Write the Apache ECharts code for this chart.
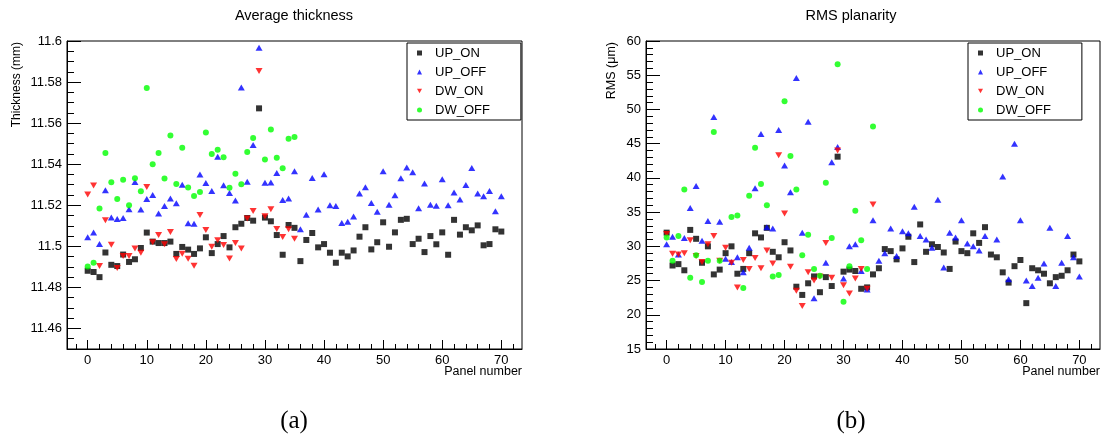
<!DOCTYPE html>
<html>
<head>
<meta charset="utf-8">
<script src="https://cdn.jsdelivr.net/npm/echarts@6/dist/echarts.min.js"></script>
<style>
  html, body { margin: 0; padding: 0; background: #fff; }
  #chart { width: 1102px; height: 440px; }
</style>
</head>
<body>
<div id="chart"></div>
<script>
// Panel measurements, indexed by panel number (null = no measurement shown)
const thicknessUpOn = [
  11.4881, 11.4875, 11.4850, 11.4970, 11.4910, 11.4904, 11.4960, 11.4924, 11.4937, 11.4992,
  11.5067, 11.5023, 11.5016, 11.5016, 11.5023, 11.4963, 11.4997, 11.4984, 11.4963, 11.4990,
  11.5044, 11.4967, 11.5011, 11.5050, 11.4995, 11.5093, 11.5110, 11.5138, 11.5125, 11.5672,
  11.5140, 11.5122, 11.5055, 11.4959, 11.5104, 11.5090, 11.4928, 11.5031, 11.5065, 11.4995,
  11.5011, 11.4969, 11.4920, 11.4969, 11.4951, 11.4980, 11.5047, 11.5093, 11.4985, 11.5020,
  11.5117, 11.4998, 11.5068, 11.5129, 11.5134, 11.5011, 11.5037, 11.4972, 11.5050, 11.5010,
  11.5068, 11.4959, 11.5129, 11.5057, 11.5093, 11.5078, 11.5102, 11.5005, 11.5011, 11.5083,
  11.5072
];
const thicknessUpOff = [
  11.5044, 11.5067, 11.5011, 11.5273, 11.5140, 11.5133, 11.5138, 11.5180, 11.5313, 11.5179,
  11.5231, 11.5250, 11.5160, 11.5196, 11.5233, 11.5210, 11.5300, 11.5112, 11.5110, 11.5350,
  11.5309, 11.5270, 11.5436, 11.5297, 11.5260, 11.5223, 11.5774, 11.5315, 11.5494, 11.5967,
  11.5310, 11.5311, 11.5357, 11.5226, 11.5233, 11.5366, 11.5083, 11.5154, 11.5333, 11.5179,
  11.5351, 11.5200, 11.5197, 11.5114, 11.5120, 11.5145, 11.5257, 11.5288, 11.5211, 11.5169,
  11.5366, 11.5203, 11.5249, 11.5332, 11.5384, 11.5361, 11.5185, 11.5306, 11.5203, 11.5198,
  11.5327, 11.5200, 11.5262, 11.5228, 11.5299, 11.5381, 11.5257, 11.5244, 11.5270, 11.5171,
  11.5244
];
const thicknessDwOn = [
  11.5252, 11.5296, 11.4904, 11.5127, 11.5008, 11.4894, 11.4953, 11.4953, 11.4989, 11.4969,
  11.5289, 11.5020, 11.5055, 11.5010, 11.5070, 11.4938, 11.4964, 11.4940, 11.4906, 11.5153,
  11.5080, 11.4998, 11.5030, 11.5006, 11.4941, 11.5016, 11.4990, 11.5135, 11.5172, 11.5854,
  11.5146, 11.5180, 11.5085, 11.5046, 11.5083, 11.5037
];
const thicknessDwOff = [
  11.4902, 11.4920, 11.5184, 11.5455, 11.5312, 11.5231, 11.5324, 11.5200, 11.5332, 11.5268,
  11.5771, 11.5400, 11.5454, 11.5330, 11.5540, 11.5304, 11.5480, 11.5286, 11.5245, 11.5265,
  11.5554, 11.5450, 11.5470, 11.5434, 11.5285, 11.5353, 11.5302, 11.5460, 11.5527, null,
  11.5423, 11.5569, 11.5431, 11.5380, 11.5524, 11.5532
];

const rmsUpOn = [
  32.0, 27.2, 27.4, 26.5, 32.4, 31.1, 27.6, 30.0, 25.9, 26.6,
  29.0, 30.0, 26.0, 26.7, 29.0, 31.9, 31.3, 32.7, 29.2, 28.4,
  30.6, 29.4, 24.1, 22.9, 24.6, 25.6, 23.3, 25.5, 24.2, 43.1,
  26.3, 26.6, 26.4, 23.8, 24.0, 25.9, 26.8, 29.6, 29.3, 28.1,
  29.7, 31.4, 27.7, 33.2, 29.2, 30.3, 29.9, 29.1, 26.7, 30.7,
  29.3, 29.0, 31.9, 30.5, 32.8, 28.8, 28.4, 26.2, 24.7, 27.1,
  28.0, 21.7, 26.8, 26.5, 26.0, 24.6, 25.5, 25.7, 26.5, 28.8,
  27.8
];
const rmsUpOff = [
  30.3, 31.4, 28.8, 31.2, 35.6, 38.8, 30.8, 33.7, 48.9, 33.6,
  28.2, 27.7, 28.4, 26.2, 29.8, 38.5, 46.4, 32.8, 32.6, 47.0,
  41.8, 37.9, 54.6, 32.0, 48.2, 22.4, null, 27.6, 42.3, 44.5,
  25.3, 30.0, 30.3, 26.4, 23.7, 33.8, 27.9, 29.0, 32.6, 28.6,
  32.2, 31.9, 35.8, 31.5, 31.0, 29.8, 36.8, 26.9, 32.0, 31.3,
  33.8, 30.4, 30.0, 29.4, 31.5, null, 31.0, 40.2, 25.2, 45.0,
  33.8, 25.0, 24.2, 25.4, 27.5, 32.7, 24.2, 27.6, 31.5, 28.4,
  25.6
];
const rmsDwOn = [
  31.8, 28.9, 28.8, 29.0, 30.9, 28.6, 27.7, 30.3, 31.5, 27.9,
  29.8, 27.6, 24.0, 28.0, 26.7, 28.3, 26.8, 29.4, 27.5, 43.3,
  34.8, 27.0, 23.5, 21.3, 26.2, 25.0, 25.6, 30.5, 25.4, 44.0,
  24.3, 23.1, 25.3, 26.7, 23.8, 36.1
];
const rmsDwOff = [
  31.3, 27.9, 31.5, 38.3, 25.4, 28.7, 24.8, 27.9, 46.7, 27.9,
  null, 34.3, 34.5, 23.9, 37.4, 44.4, 39.1, 36.0, 25.6, 25.8,
  51.2, 43.2, 38.3, 28.7, 31.7, 26.7, 25.7, 39.3, 31.2, 56.6,
  21.9, 27.1, 35.2, 30.9, 26.7, 47.5
];

// Axis tick labels
const panelTicks = [0, 10, 20, 30, 40, 50, 60, 70];
const thicknessTicks = [11.46, 11.48, 11.5, 11.52, 11.54, 11.56, 11.58, 11.6];
const rmsTicks = [15, 20, 25, 30, 35, 40, 45, 50, 55, 60];

const FONT = '"Liberation Sans", Arial, Helvetica, sans-serif';
const DOWN_TRIANGLE = 'path://M0,0L10,0L5,9Z';

function steps(from, to, step) {
  const out = [];
  const n = Math.round((to - from) / step);
  for (let i = 0; i <= n; i++) out.push(+(from + i * step).toFixed(4));
  return out;
}
const panelMinor = steps(-2, 72, 2);
const thicknessMinor = steps(11.45, 11.6, 0.005);
const rmsMinor = steps(15, 60, 1);

function toPoints(values) {
  const pts = [];
  values.forEach((v, i) => { if (v !== null) pts.push([i, v]); });
  return pts;
}

function xMajor(grid) {
  return {
    type: 'value', gridIndex: grid, min: -3.5, max: 73.5, position: 'bottom',
    axisLine: { show: true, onZero: false, lineStyle: { color: '#000', width: 1 } },
    axisTick: { show: true, inside: true, length: 9, customValues: panelTicks, lineStyle: { color: '#000', width: 1 } },
    axisLabel: { show: true, customValues: panelTicks, margin: 5, fontSize: 13, color: '#000', fontFamily: FONT },
    splitLine: { show: false }
  };
}
function xMinor(grid) {
  return {
    type: 'value', gridIndex: grid, min: -3.5, max: 73.5, position: 'bottom',
    axisLine: { show: false, onZero: false },
    axisTick: { show: true, inside: true, length: 5, customValues: panelMinor, lineStyle: { color: '#000', width: 1 } },
    axisLabel: { show: false },
    splitLine: { show: false }
  };
}
function yMajor(grid, min, max, ticks, fmt) {
  return {
    type: 'value', gridIndex: grid, min: min, max: max, position: 'left',
    axisLine: { show: true, onZero: false, lineStyle: { color: '#000', width: 1 } },
    axisTick: { show: true, inside: true, length: 14, customValues: ticks, lineStyle: { color: '#000', width: 1 } },
    axisLabel: { show: true, customValues: ticks, margin: 5, fontSize: 13, color: '#000', fontFamily: FONT, formatter: fmt },
    splitLine: { show: false }
  };
}
function yMinor(grid, min, max, ticks) {
  return {
    type: 'value', gridIndex: grid, min: min, max: max, position: 'left',
    axisLine: { show: false, onZero: false },
    axisTick: { show: true, inside: true, length: 7, customValues: ticks, lineStyle: { color: '#000', width: 1 } },
    axisLabel: { show: false },
    splitLine: { show: false }
  };
}

function seriesSet(xIdx, yIdx, upOn, upOff, dwOn, dwOff) {
  const base = { type: 'scatter', xAxisIndex: xIdx, yAxisIndex: yIdx, animation: false, emphasis: { disabled: true } };
  return [
    Object.assign({}, base, { name: 'UP_ON', symbol: 'rect', symbolSize: 6, itemStyle: { color: '#000000' }, data: toPoints(upOn) }),
    Object.assign({}, base, { name: 'UP_OFF', symbol: 'triangle', symbolSize: [7, 6], itemStyle: { color: '#0000ff' }, data: toPoints(upOff) }),
    Object.assign({}, base, { name: 'DW_ON', symbol: DOWN_TRIANGLE, symbolSize: [7, 6], itemStyle: { color: '#ff0000' }, data: toPoints(dwOn) }),
    Object.assign({}, base, { name: 'DW_OFF', symbol: 'circle', symbolSize: 6, itemStyle: { color: '#00ff00' }, data: toPoints(dwOff) })
  ];
}

function legendBox(left) {
  return {
    left: left, top: 43, orient: 'vertical', selectedMode: false,
    itemWidth: 5, itemHeight: 5, itemGap: 5,
    padding: [3, 31, 3, 10],
    borderColor: '#000', borderWidth: 1, backgroundColor: '#fff',
    textStyle: { fontSize: 13, color: '#000', fontFamily: FONT, lineHeight: 14, padding: [0, 0, 0, 8] },
    data: [
      { name: 'UP_ON', icon: 'rect', itemStyle: { color: '#000000' } },
      { name: 'UP_OFF', icon: 'triangle', itemStyle: { color: '#0000ff' } },
      { name: 'DW_ON', icon: DOWN_TRIANGLE, itemStyle: { color: '#ff0000' } },
      { name: 'DW_OFF', icon: 'circle', itemStyle: { color: '#00ff00' } }
    ]
  };
}

function label(text, x, y, size, opts) {
  return Object.assign({
    type: 'text', x: x, y: y, silent: true,
    style: Object.assign({ text: text, fill: '#000', font: size + 'px ' + FONT, textAlign: 'center', textVerticalAlign: 'middle' }, opts && opts.style)
  }, opts && opts.el);
}

const fmtThickness = v => String(+(+v).toFixed(2));
const fmtRms = v => String(Math.round(v));

const chart = echarts.init(document.getElementById('chart'), null, { renderer: 'canvas' });
chart.setOption({
  animation: false,
  backgroundColor: '#fff',
  grid: [
    { left: 67, top: 41, width: 455, height: 308, show: true, borderColor: '#000', borderWidth: 1, backgroundColor: 'transparent' },
    { left: 646, top: 41, width: 454, height: 308, show: true, borderColor: '#000', borderWidth: 1, backgroundColor: 'transparent' }
  ],
  xAxis: [xMajor(0), xMinor(0), xMajor(1), xMinor(1)],
  yAxis: [
    yMajor(0, 11.45, 11.6, thicknessTicks, fmtThickness),
    yMinor(0, 11.45, 11.6, thicknessMinor),
    yMajor(1, 15, 60, rmsTicks, fmtRms),
    yMinor(1, 15, 60, rmsMinor)
  ],
  legend: [legendBox(407), legendBox(968)],
  series: [].concat(
    seriesSet(0, 0, thicknessUpOn, thicknessUpOff, thicknessDwOn, thicknessDwOff),
    seriesSet(2, 2, rmsUpOn, rmsUpOff, rmsDwOn, rmsDwOff)
  ),
  graphic: [
    label('Average thickness', 294, 16, 14.5),
    label('RMS planarity', 851, 16, 14.5),
    label('Thickness (mm)', 17, 42, 12, { style: { textAlign: 'right' }, el: { rotation: Math.PI / 2 } }),
    label('RMS (\u03bcm)', 612, 42, 12.5, { style: { textAlign: 'right' }, el: { rotation: Math.PI / 2 } }),
    label('Panel number', 522, 372, 12.5, { style: { textAlign: 'right' } }),
    label('Panel number', 1100, 372, 12.5, { style: { textAlign: 'right' } }),
    { type: 'text', x: 294, y: 421, silent: true, style: { text: '(a)', fill: '#000', font: '25px "Liberation Serif", "DejaVu Serif", serif', textAlign: 'center', textVerticalAlign: 'middle' } },
    { type: 'text', x: 851, y: 421, silent: true, style: { text: '(b)', fill: '#000', font: '25px "Liberation Serif", "DejaVu Serif", serif', textAlign: 'center', textVerticalAlign: 'middle' } }
  ]
});
</script>
</body>
</html>
